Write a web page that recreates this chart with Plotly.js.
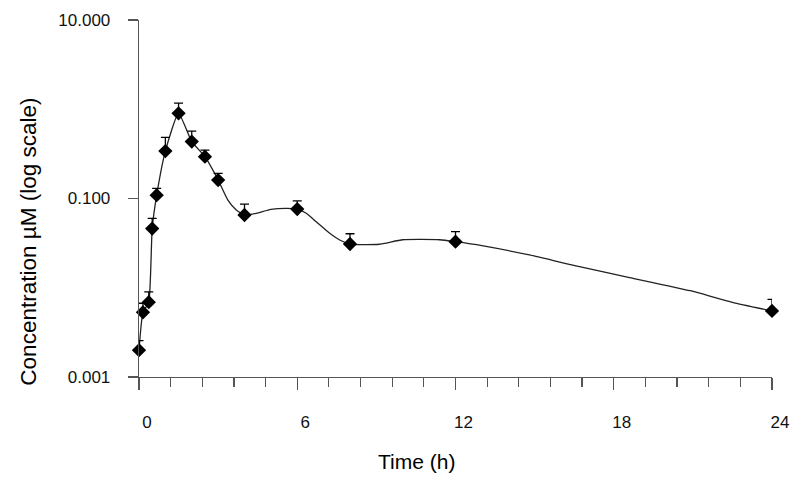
<!DOCTYPE html>
<html>
<head>
<meta charset="utf-8">
<script src="https://cdn.plot.ly/plotly-3.0.1.min.js"></script>
<style>
  html, body { margin: 0; padding: 0; background: #fff; }
  #chart { width: 800px; height: 483px; }
</style>
</head>
<body>
<div id="chart"></div>
<script>
// Sampling times (h) and mean concentrations (µM) with upper SD
const sampleTimes = [0, 0.15, 0.37, 0.5, 0.67, 1, 1.5, 2, 2.5, 3, 4, 6, 8, 12, 24];
const meanConc    = [0.0020, 0.0053, 0.0069, 0.046, 0.109, 0.34, 0.90, 0.434, 0.294, 0.161, 0.0653, 0.0762, 0.0309, 0.0328, 0.0055];
const sdUpper     = [0.00055, 0.0014, 0.0021, 0.014, 0.021, 0.145, 0.27, 0.136, 0.055, 0.030, 0.021, 0.018, 0.0094, 0.0097, 0.0019];

// Smoothed concentration-time curve
const curveTimes = [0, 0.15, 0.37, 0.5, 0.67, 1, 1.5, 2, 2.5, 3, 3.37, 3.69, 4, 4.45, 5.0, 5.6, 6, 6.34, 6.72, 7.23, 7.61, 8, 9.1, 10.0, 11.4, 12, 13.0, 14.8, 16.7, 18.6, 20.9, 22.5, 24];
const curveConc  = [0.0020, 0.0053, 0.0069, 0.046, 0.109, 0.34, 0.90, 0.434, 0.294, 0.161, 0.096, 0.0743, 0.0653, 0.0683, 0.0757, 0.0777, 0.0762, 0.0683, 0.0549, 0.0408, 0.0343, 0.0309, 0.0307, 0.0345, 0.0345, 0.0328, 0.0296, 0.0233, 0.0172, 0.0130, 0.00927, 0.00687, 0.0055];

// Axis ticks
const xTickVals = [0, 6, 12, 18, 24];
const xTickText = ['0', '6', '12', '18', '24'];
const yTickVals = [0.001, 0.1, 10];
const yTickText = ['0.001', '0.100', '10.000'];

const FONT = 'Liberation Sans, Arial, Helvetica, sans-serif';

const traces = [
  {
    x: curveTimes, y: curveConc,
    type: 'scatter', mode: 'lines',
    line: { color: '#222', width: 1.3, shape: 'spline', smoothing: 0.5 },
    hoverinfo: 'skip', showlegend: false
  },
  {
    x: sampleTimes, y: meanConc,
    type: 'scatter', mode: 'markers',
    cliponaxis: false,
    marker: { symbol: 'diamond', size: 11, color: '#000' },
    error_y: { type: 'data', array: sdUpper, arrayminus: sdUpper.map(() => 0), symmetric: false,
               color: '#000', thickness: 1.3, width: 4.5 },
    showlegend: false
  }
];

const layout = {
  width: 800, height: 483,
  margin: { l: 139, r: 28, t: 20, b: 106 },
  paper_bgcolor: '#fff', plot_bgcolor: '#fff',
  font: { family: FONT, color: '#000', size: 17 },
  showlegend: false,
  xaxis: {
    type: 'linear', range: [0, 24], showgrid: false, zeroline: false,
    showline: true, linecolor: '#555', linewidth: 1.3,
    tickmode: 'array', tickvals: xTickVals, ticktext: xTickText,
    ticks: 'outside', ticklen: 12, tickwidth: 1.3, tickcolor: '#555',
    minor: { dtick: 1.2, tick0: 0, ticks: 'outside', ticklen: 9, tickwidth: 1.2, tickcolor: '#555', showgrid: false },
    tickfont: { family: FONT, size: 17, color: '#111' },
    ticklabelshift: 8, ticklabelstandoff: 17
  },
  yaxis: {
    type: 'log', range: [-3, 1], showgrid: false, zeroline: false,
    showline: true, linecolor: '#555', linewidth: 1.3,
    tickmode: 'array', tickvals: yTickVals, ticktext: yTickText,
    ticks: 'outside', ticklen: 10, tickwidth: 1.3, tickcolor: '#555',
    tickfont: { family: FONT, size: 17, color: '#111' },
    ticklabelstandoff: 14
  },
  annotations: [
    { text: 'Concentration µM (log scale)', xref: 'paper', yref: 'paper',
      x: -0.176, y: 0.378, xanchor: 'center', yanchor: 'middle', textangle: -90,
      showarrow: false, font: { family: FONT, size: 22.5, color: '#000' } },
    { text: 'Time (h)', xref: 'paper', yref: 'paper',
      x: 0.439, y: -0.238, xanchor: 'center', yanchor: 'middle',
      showarrow: false, font: { family: FONT, size: 21, color: '#000' } }
  ]
};

Plotly.newPlot('chart', traces, layout, { displayModeBar: false, staticPlot: true });
</script>
</body>
</html>
